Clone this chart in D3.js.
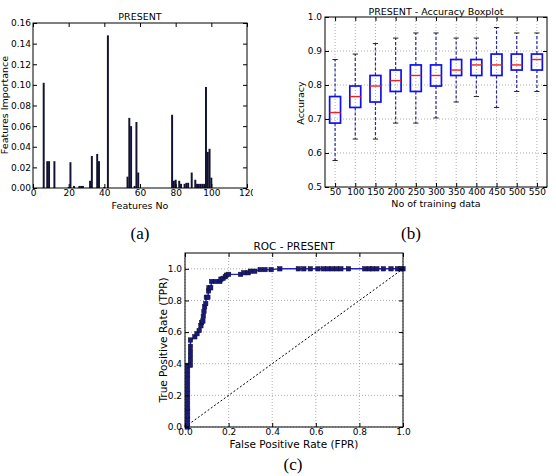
<!DOCTYPE html>
<html>
<head>
<meta charset="utf-8">
<script src="https://cdn.jsdelivr.net/npm/d3@7"></script>
<style>
  body { margin: 0; background: #fff; }
  text { font-family: "DejaVu Sans", sans-serif; fill: #000; }
</style>
</head>
<body>
<div id="chart"></div>
<script>
// (a) feature importance
var features = [6, 8, 9, 12, 20, 21, 23, 26, 27, 28, 32, 33, 36, 37, 40, 42, 53, 54, 55, 57, 58, 59,
  78, 79, 80, 82, 83, 85, 86, 87, 89, 91, 92, 93, 94, 95, 96, 97, 98, 99, 100];
var importance = [0.102, 0.026, 0.026, 0.026, 0.001, 0.025, 0.002, 0.002, 0.002, 0.002, 0.007, 0.031,
  0.033, 0.026, 0.001, 0.148, 0.011, 0.068, 0.060, 0.002, 0.064, 0.015,
  0.071, 0.007, 0.008, 0.007, 0.004, 0.004, 0.005, 0.005, 0.015, 0.008, 0.004, 0.004, 0.004, 0.004,
  0.004, 0.098, 0.035, 0.038, 0.010];

// (b) accuracy boxplot
var sizes = [50, 100, 150, 200, 250, 300, 350, 400, 450, 500, 550];
var whiskHi = [0.875, 0.891, 0.922, 0.938, 0.953, 0.953, 0.938, 0.938, 0.969, 0.953, 0.953];
var q3 = [0.766, 0.797, 0.828, 0.844, 0.859, 0.859, 0.875, 0.875, 0.891, 0.891, 0.891];
var med = [0.719, 0.766, 0.797, 0.813, 0.828, 0.828, 0.844, 0.859, 0.859, 0.859, 0.875];
var q1 = [0.688, 0.734, 0.750, 0.781, 0.781, 0.797, 0.828, 0.828, 0.828, 0.844, 0.844];
var whiskLo = [0.578, 0.641, 0.641, 0.688, 0.688, 0.703, 0.750, 0.766, 0.734, 0.781, 0.781];

// (c) ROC
var fpr = [0.01, 0.012, 0.012, 0.012, 0.012, 0.012, 0.012, 0.012, 0.012, 0.012, 0.012, 0.012, 0.012, 0.012, 0.012,
  0.025, 0.025, 0.025, 0.025, 0.025, 0.025, 0.045, 0.055, 0.065, 0.073, 0.076, 0.082, 0.084, 0.087, 0.09,
  0.095, 0.098, 0.105, 0.108, 0.11, 0.118, 0.122, 0.14, 0.16, 0.165, 0.175, 0.185, 0.19, 0.2, 0.255,
  0.27, 0.29, 0.3, 0.32, 0.345, 0.367, 0.395, 0.435, 0.52, 0.545, 0.575, 0.61, 0.635, 0.655, 0.675,
  0.695, 0.715, 0.75, 0.825, 0.845, 0.86, 0.88, 0.91, 0.945, 0.975, 0.99, 1.0];
var tpr = [0.0, 0.02, 0.05, 0.07, 0.1, 0.12, 0.15, 0.18, 0.21, 0.24, 0.27, 0.3, 0.33, 0.36, 0.39,
  0.39, 0.42, 0.45, 0.48, 0.51, 0.55, 0.57, 0.59, 0.61, 0.64, 0.66, 0.67, 0.70, 0.73, 0.76,
  0.78, 0.82, 0.82, 0.86, 0.88, 0.88, 0.92, 0.92, 0.92, 0.935, 0.94, 0.95, 0.96, 0.965, 0.965,
  0.975, 0.975, 0.985, 0.985, 0.995, 0.995, 0.995, 1.0, 1.0, 1.0, 1.0, 1.0, 1.0, 1.0, 1.0,
  1.0, 1.0, 1.0, 1.0, 1.0, 1.0, 1.0, 1.0, 1.0, 1.0, 1.0, 1.0];

var W = 556, H = 476;
var svg = d3.select("#chart").append("svg")
  .attr("width", W).attr("height", H)
  .style("background", "#fff");

// matplotlib classic style frame: ticks inside on all four sides
function frame(g, x, y, xt, yt, xf, yf, px, py) {
  var r = x.range(), ry = y.range();
  g.append("g").attr("transform", "translate(0," + ry[0] + ")")
    .call(d3.axisBottom(x).tickValues(xt).tickFormat(xf).tickSize(-4).tickPadding(px));
  g.append("g").attr("transform", "translate(0," + ry[1] + ")")
    .call(d3.axisTop(x).tickValues(xt).tickFormat("").tickSize(-4));
  g.append("g").attr("transform", "translate(" + r[0] + ",0)")
    .call(d3.axisLeft(y).tickValues(yt).tickFormat(yf).tickSize(-4).tickPadding(py));
  g.append("g").attr("transform", "translate(" + r[1] + ",0)")
    .call(d3.axisRight(y).tickValues(yt).tickFormat("").tickSize(-4));
  g.selectAll(".domain").remove();
  g.selectAll(".tick text").attr("font-size", "9px").attr("font-family", "DejaVu Sans");
  g.append("rect").attr("x", r[0]).attr("y", ry[1])
    .attr("width", r[1] - r[0]).attr("height", ry[0] - ry[1])
    .attr("fill", "none").attr("stroke", "#000").attr("stroke-width", 1);
}

function grid(g, x, y, xv, yv) {
  var r = x.range(), ry = y.range();
  g.selectAll(".vg").data(xv).enter().append("line")
    .attr("x1", d => x(d)).attr("x2", d => x(d))
    .attr("y1", ry[0]).attr("y2", ry[1])
    .attr("stroke", "#999").attr("stroke-width", 0.8).attr("stroke-dasharray", "1,2");
  g.selectAll(".hg").data(yv).enter().append("line")
    .attr("x1", r[0]).attr("x2", r[1])
    .attr("y1", d => y(d)).attr("y2", d => y(d))
    .attr("stroke", "#999").attr("stroke-width", 0.8).attr("stroke-dasharray", "1,2");
}

// ---------- (a)
svg.append("clipPath").attr("id", "clipA").append("rect")
  .attr("x", 0).attr("y", 0).attr("width", 253).attr("height", 220);
var ga = svg.append("g").attr("clip-path", "url(#clipA)");
var xa = d3.scaleLinear().domain([0, 120]).range([33, 247]);
var ya = d3.scaleLinear().domain([0, 0.16]).range([188, 23]);
ga.selectAll(".bar").data(features).enter().append("rect")
  .attr("x", d => xa(d - 0.55))
  .attr("width", xa(1.1) - xa(0))
  .attr("y", (d, i) => ya(importance[i]))
  .attr("height", (d, i) => ya(0) - ya(importance[i]))
  .attr("fill", "#121232");
frame(ga, xa, ya, d3.range(0, 121, 20), d3.range(0, 0.161, 0.02),
  d3.format("d"), d3.format(".2f"), 2, 2);
ga.append("text").attr("x", 140).attr("y", 20).attr("text-anchor", "middle")
  .attr("font-size", "9.5px").text("PRESENT");
ga.append("text").attr("x", 140).attr("y", 209).attr("text-anchor", "middle")
  .attr("font-size", "9.5px").text("Features No");
ga.append("text").attr("transform", "translate(8,105) rotate(-90)").attr("text-anchor", "middle")
  .attr("font-size", "9.5px").text("Features Importance");

// ---------- (b)
var gb = svg.append("g");
var xb = d3.scaleLinear().domain([0.5, sizes.length + 0.5]).range([325, 547]);
var yb = d3.scaleLinear().domain([0.5, 1.0]).range([187, 17]);
var pos = sizes.map((d, i) => i + 1);
grid(gb, xb, yb, pos, [0.6, 0.7, 0.8, 0.9]);
var box = gb.selectAll(".box").data(pos).enter().append("g");
box.append("line").attr("x1", d => xb(d)).attr("x2", d => xb(d))
  .attr("y1", (d, i) => yb(q3[i])).attr("y2", (d, i) => yb(whiskHi[i]))
  .attr("stroke", "#2a2aa0").attr("stroke-width", 1.2).attr("stroke-dasharray", "3,2");
box.append("line").attr("x1", d => xb(d)).attr("x2", d => xb(d))
  .attr("y1", (d, i) => yb(q1[i])).attr("y2", (d, i) => yb(whiskLo[i]))
  .attr("stroke", "#2a2aa0").attr("stroke-width", 1.2).attr("stroke-dasharray", "3,2");
box.append("line").attr("x1", d => xb(d - 0.13)).attr("x2", d => xb(d + 0.13))
  .attr("y1", (d, i) => yb(whiskHi[i])).attr("y2", (d, i) => yb(whiskHi[i]))
  .attr("stroke", "#222").attr("stroke-width", 1);
box.append("line").attr("x1", d => xb(d - 0.13)).attr("x2", d => xb(d + 0.13))
  .attr("y1", (d, i) => yb(whiskLo[i])).attr("y2", (d, i) => yb(whiskLo[i]))
  .attr("stroke", "#222").attr("stroke-width", 1);
box.append("rect").attr("x", d => xb(d - 0.27)).attr("width", xb(0.54) - xb(0))
  .attr("y", (d, i) => yb(q3[i])).attr("height", (d, i) => yb(q1[i]) - yb(q3[i]))
  .attr("fill", "none").attr("stroke", "#1010ee").attr("stroke-width", 1.7);
box.append("line").attr("x1", d => xb(d - 0.27)).attr("x2", d => xb(d + 0.27))
  .attr("y1", (d, i) => yb(med[i])).attr("y2", (d, i) => yb(med[i]))
  .attr("stroke", "#ee2020").attr("stroke-width", 1.4);
frame(gb, xb, yb, pos, [0.5, 0.6, 0.7, 0.8, 0.9, 1.0], i => sizes[i - 1], d3.format(".1f"), 2, 3);
gb.append("text").attr("x", 436).attr("y", 15).attr("text-anchor", "middle")
  .attr("font-size", "9.5px").text("PRESENT - Accuracy Boxplot");
gb.append("text").attr("x", 436).attr("y", 207).attr("text-anchor", "middle")
  .attr("font-size", "9.5px").text("No of training data");
gb.append("text").attr("transform", "translate(304,103) rotate(-90)").attr("text-anchor", "middle")
  .attr("font-size", "9.5px").text("Accuracy");

// ---------- (c)
var gc = svg.append("g");
var xc = d3.scaleLinear().domain([0, 1]).range([185, 403]);
var yc = d3.scaleLinear().domain([0, 1.1]).range([427, 253]);
var rt = [0, 0.2, 0.4, 0.6, 0.8, 1.0];
grid(gc, xc, yc, rt, rt);
gc.append("line").attr("x1", xc(0)).attr("y1", yc(0)).attr("x2", xc(1)).attr("y2", yc(1))
  .attr("stroke", "#000").attr("stroke-width", 1).attr("stroke-dasharray", "2,2");
var pts = fpr.map((d, i) => [d, tpr[i]]);
gc.append("path").datum(pts)
  .attr("d", d3.line().x(d => xc(d[0])).y(d => yc(d[1])))
  .attr("fill", "none").attr("stroke", "#2424c8").attr("stroke-width", 1.4);
gc.selectAll(".mk").data(pts).enter().append("rect")
  .attr("x", d => xc(d[0]) - 2.2).attr("y", d => yc(d[1]) - 2.2)
  .attr("width", 4.4).attr("height", 4.4)
  .attr("fill", "#1a1a7a").attr("stroke", "#0a0a30").attr("stroke-width", 0.5);
frame(gc, xc, yc, rt, rt, d3.format(".1f"), d3.format(".1f"), 2, 3);
gc.append("text").attr("x", 294).attr("y", 250).attr("text-anchor", "middle")
  .attr("font-size", "10.5px").text("ROC - PRESENT");
gc.append("text").attr("x", 294).attr("y", 448).attr("text-anchor", "middle")
  .attr("font-size", "10.5px").text("False Positive Rate (FPR)");
gc.append("text").attr("transform", "translate(167,340) rotate(-90)").attr("text-anchor", "middle")
  .attr("font-size", "10.5px").text("True Positive Rate (TPR)");

// captions
var cap = [["(a)", 140, 239], ["(b)", 411, 239], ["(c)", 293, 470]];
svg.selectAll(".cap").data(cap).enter().append("text")
  .attr("x", d => d[1]).attr("y", d => d[2]).attr("text-anchor", "middle")
  .style("font-family", "'Liberation Serif', serif")
  .attr("font-size", "17px").text(d => d[0]);
</script>
</body>
</html>
